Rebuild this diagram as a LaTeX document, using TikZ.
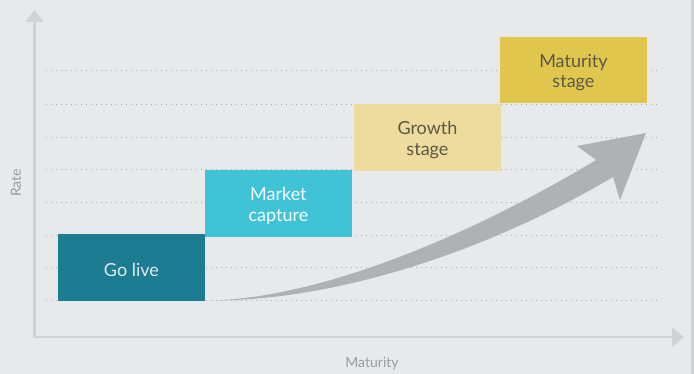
\documentclass[tikz,border=0pt]{standalone}
\usepackage{fontspec}
\setmainfont{Lato}
\usetikzlibrary{arrows.meta}
\definecolor{bgc}{HTML}{E8E9EB}
\definecolor{axisc}{HTML}{D1D2D4}
\definecolor{dotc}{HTML}{A8A9AB}
\definecolor{golive}{HTML}{1B7C92}
\definecolor{market}{HTML}{41C3D7}
\definecolor{growth}{HTML}{EEDC9E}
\definecolor{maturity}{HTML}{E1C64E}
\definecolor{arrowc}{HTML}{B0B1B3}
\definecolor{labelc}{HTML}{9A9B9D}
\definecolor{darktext}{HTML}{5A5946}
\tikzset{
  stagebox/.style={rectangle, inner sep=0pt, minimum width=146.5pt, minimum height=66.5pt, anchor=north west},
  stagetext/.style={inner sep=0pt, align=center, yshift=-2.5pt, font=\fontsize{18}{20.5}\selectfont},
  gridline/.style={dotc, line width=1pt, dash pattern=on 1pt off 4pt},
  axisline/.style={axisc, line width=2.5pt, {Triangle[width=18pt,length=12pt]}-{Triangle[width=19pt,length=12pt]}},
  axislabel/.style={labelc, font=\fontsize{14}{16}\selectfont},
}
\begin{document}
\begin{tikzpicture}[x=1pt,y=-1pt]
\fill[bgc] (0,0) rectangle (694,374);
\useasboundingbox (0,0) rectangle (694,374);
\fill[axisc] (691,0) rectangle (694,374);
% grid lines
\foreach \yy in {71,104.5,137.5,170,203,235.5,268,300.5}
  \draw[gridline] (46,\yy) -- (658,\yy);
% boxes
\node[stagebox, fill=golive] (go) at (58,234) {};
\node[stagebox, fill=market] (mc) at (205,170) {};
\node[stagebox, fill=growth] (gs) at (354,104) {};
\node[stagebox, fill=maturity] (ms) at (500,36.5) {};
\node[stagetext, text=golive!15!white] (got) at (go.center) {Go live};
\node[stagetext, text=white!95!market] (mct) at (mc.center) {Market\\capture};
\node[stagetext, text=darktext] (gst) at (gs.center) {Growth\\stage};
\node[stagetext, text=darktext] (mst) at (ms.center) {Maturity\\stage};
% axes
\coordinate (ytip) at (34.5,10);
\coordinate (origin) at (34.5,337);
\coordinate (xtip) at (684,337);
\draw[axisline] (ytip) -- (origin) -- (xtip);
\node[axislabel, rotate=90] (rate) at (16,183) {Rate};
\node[axislabel] (mat) at (372,364) {Maturity};
% growth arrow
\fill[arrowc] (214,300.5) .. controls (330,296) and (480,230) .. (596,160)
  -- (577,146) -- (646,133) -- (620,200) -- (613,177)
  .. controls (490,250) and (340,300) .. (214,300.5) -- cycle;
\end{tikzpicture}
\end{document}
